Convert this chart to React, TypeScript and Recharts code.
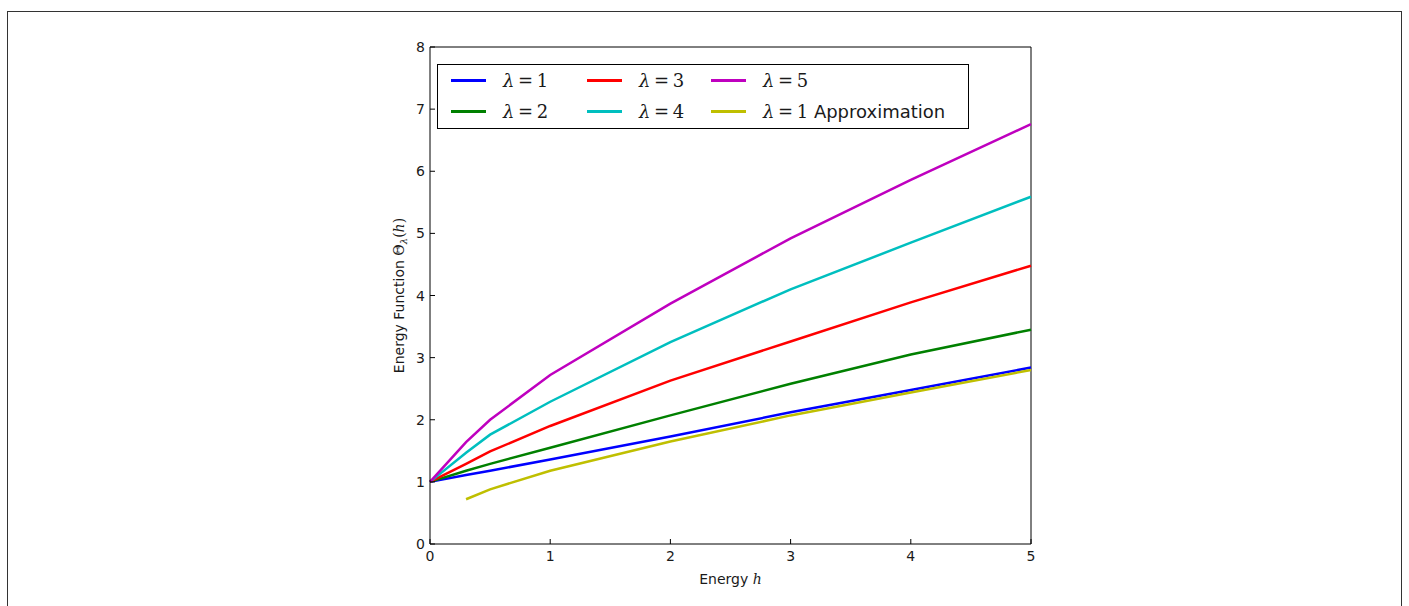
import { LineChart, Line, XAxis, YAxis, Legend, Label, ReferenceLine } from 'recharts'

// energy h (x) and Θ_λ(h) values
const energy = [0, 0.3, 0.5, 1, 2, 3, 4, 5]
const lambda1 = [1, 1.11, 1.18, 1.36, 1.73, 2.12, 2.48, 2.84]
const lambda2 = [1, 1.18, 1.29, 1.55, 2.07, 2.58, 3.05, 3.45]
const lambda3 = [1, 1.29, 1.49, 1.9, 2.63, 3.26, 3.89, 4.48]
const lambda4 = [1, 1.47, 1.76, 2.29, 3.25, 4.1, 4.85, 5.59]
const lambda5 = [1, 1.64, 2.0, 2.72, 3.87, 4.92, 5.86, 6.76]
const approx1 = [null, 0.72, 0.88, 1.18, 1.65, 2.07, 2.44, 2.8]

const xTicks = [0, 1, 2, 3, 4, 5]
const yTicks = [0, 1, 2, 3, 4, 5, 6, 7, 8]

const series = [
  { key: 'l1', lam: '1', extra: '', color: '#0000ff', values: lambda1 },
  { key: 'l2', lam: '2', extra: '', color: '#008000', values: lambda2 },
  { key: 'l3', lam: '3', extra: '', color: '#ff0000', values: lambda3 },
  { key: 'l4', lam: '4', extra: '', color: '#00bfbf', values: lambda4 },
  { key: 'l5', lam: '5', extra: '', color: '#bf00bf', values: lambda5 },
  { key: 'a1', lam: '1', extra: ' Approximation', color: '#bfbf00', values: approx1 },
]

const data = energy.map((h, i) => {
  const row: Record<string, number | null> = { h }
  series.forEach((s) => {
    row[s.key] = s.values[i]
  })
  return row
})

const SANS = '"DejaVu Sans", sans-serif'
const SERIF = '"DejaVu Serif", serif'
const INK = '#1a1a1a'
const TICK = 5

const BottomTick = ({ x, y, payload }: any) => (
  <g>
    <line x1={x} y1={y} x2={x} y2={y - TICK} stroke="#000" />
    <text x={x} y={y + 17} textAnchor="middle" fontSize={14} fontFamily={SANS} fill={INK}>
      {payload.value}
    </text>
  </g>
)

const TopTick = ({ x, y }: any) => <line x1={x} y1={y} x2={x} y2={y + TICK} stroke="#000" />

const LeftTick = ({ x, y, payload }: any) => (
  <g>
    <line x1={x} y1={y} x2={x + TICK} y2={y} stroke="#000" />
    <text x={x - 5} y={y + 5} textAnchor="end" fontSize={14} fontFamily={SANS} fill={INK}>
      {payload.value}
    </text>
  </g>
)

const RightTick = ({ x, y }: any) => <line x1={x} y1={y} x2={x - TICK} y2={y} stroke="#000" />

const XTitle = ({ viewBox }: any) => {
  const cx = viewBox.x + viewBox.width / 2
  return (
    <text x={cx} y={viewBox.y + 40} textAnchor="middle" fontSize={14} fontFamily={SANS} fill={INK}>
      Energy{' '}
      <tspan fontFamily={SERIF} fontStyle="italic">
        h
      </tspan>
    </text>
  )
}

const YTitle = ({ viewBox }: any) => {
  const cx = viewBox.x + 34
  const cy = viewBox.y + viewBox.height / 2
  return (
    <text
      x={cx}
      y={cy}
      transform={`rotate(-90 ${cx} ${cy})`}
      textAnchor="middle"
      fontSize={14}
      fontFamily={SANS}
      fill={INK}
    >
      Energy Function{' '}
      <tspan fontFamily={SERIF}>Θ</tspan>
      <tspan fontFamily={SERIF} fontStyle="italic" fontSize={10} dy={3}>
        λ
      </tspan>
      <tspan fontFamily={SERIF} dy={-3}>
        (
      </tspan>
      <tspan fontFamily={SERIF} fontStyle="italic">
        h
      </tspan>
      <tspan fontFamily={SERIF}>)</tspan>
    </text>
  )
}

// legend is column-major, 2 rows x 3 columns like matplotlib's ncol=3
const legendCols = [13, 149, 273]
const legendRows = [15, 46]

const LegendBox = () => (
  <div
    style={{
      position: 'relative',
      width: 532,
      height: 65,
      border: '1px solid #000',
      boxSizing: 'border-box',
      background: '#fff',
    }}
  >
    {series.map((s, i) => {
      const left = legendCols[Math.floor(i / 2)]
      const top = legendRows[i % 2]
      return (
        <div key={s.key} style={{ position: 'absolute', left, top: top - 12, height: 24, display: 'flex', alignItems: 'center' }}>
          <div style={{ width: 35, height: 3, background: s.color }} />
          <span style={{ marginLeft: 17, fontSize: 18, color: INK, whiteSpace: 'nowrap', fontFamily: SERIF }}>
            <i>λ</i>
            {'\u2009=\u2009'}
            {s.lam}
            {s.extra && <span style={{ fontFamily: SANS, fontSize: 18 }}>{s.extra}</span>}
          </span>
        </div>
      )
    })}
  </div>
)

export default function App() {
  return (
    <div style={{ position: 'absolute', left: 0, top: 0, width: 1409, height: 606, background: '#fff', overflow: 'hidden' }}>
      <div
        style={{
          position: 'absolute',
          left: 7,
          top: 11,
          width: 1395,
          height: 620,
          border: '1.5px solid #333',
          boxSizing: 'border-box',
        }}
      />
      <div style={{ position: 'absolute', left: 0, top: 0 }}>
        <LineChart width={1409} height={606} data={data} margin={{ top: 47, right: 378, bottom: 22, left: 370 }}>
          <XAxis
            dataKey="h"
            type="number"
            domain={[0, 5]}
            ticks={xTicks}
            height={40}
            tickSize={0}
            tickMargin={0}
            tickLine={false}
            axisLine={{ stroke: '#000' }}
            tick={<BottomTick />}
            interval={0}
          >
            <Label content={<XTitle />} />
          </XAxis>
          <XAxis
            xAxisId="top"
            orientation="top"
            dataKey="h"
            type="number"
            domain={[0, 5]}
            ticks={xTicks}
            height={0}
            tickSize={0}
            tickMargin={0}
            tickLine={false}
            axisLine={false}
            tick={<TopTick />}
            interval={0}
          />
          <YAxis
            type="number"
            domain={[0, 8]}
            ticks={yTicks}
            width={60}
            tickSize={0}
            tickMargin={0}
            tickLine={false}
            axisLine={{ stroke: '#000' }}
            tick={<LeftTick />}
            interval={0}
          >
            <Label content={<YTitle />} />
          </YAxis>
          <YAxis
            yAxisId="right"
            orientation="right"
            type="number"
            domain={[0, 8]}
            ticks={yTicks}
            width={0}
            tickSize={0}
            tickMargin={0}
            tickLine={false}
            axisLine={false}
            tick={<RightTick />}
            interval={0}
          />
          {/* top and right spines */}
          <ReferenceLine y={8} stroke="#000" strokeWidth={1} ifOverflow="visible" />
          <ReferenceLine x={5} stroke="#000" strokeWidth={1} ifOverflow="visible" />
          {series.map((s) => (
            <Line
              key={s.key}
              type="linear"
              dataKey={s.key}
              stroke={s.color}
              strokeWidth={2.5}
              dot={false}
              activeDot={false}
              connectNulls={false}
              isAnimationActive={false}
            />
          ))}
          <Legend
            layout="horizontal"
            verticalAlign="middle"
            align="center"
            content={<LegendBox />}
            wrapperStyle={{ left: 437, top: 64, width: 532, height: 65 }}
          />
        </LineChart>
      </div>
    </div>
  )
}
